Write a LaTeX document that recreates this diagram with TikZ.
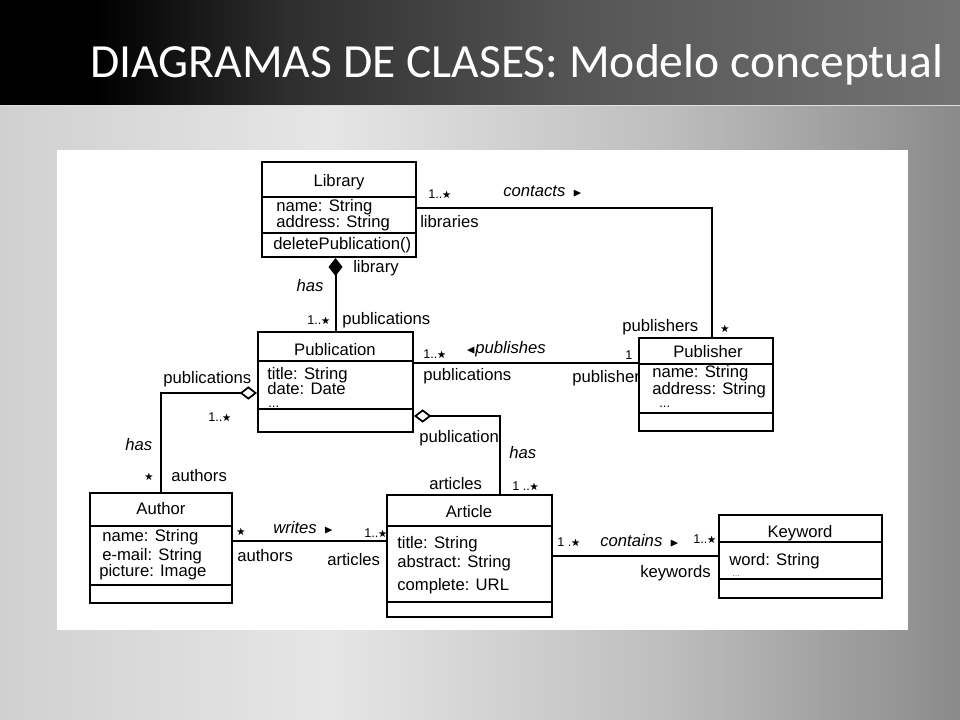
\documentclass[tikz,border=0pt]{standalone}
\usepackage{amssymb}
\usepackage{fontspec}
\setmainfont{Liberation Sans}
\newfontfamily\titlefont{Carlito}
\usetikzlibrary{arrows.meta,fit}
\newcommand\mstar{\raisebox{0.08ex}{\scalebox{0.72}{$\bigstar$}}}
\definecolor{tbA}{HTML}{2E2E2E}
\definecolor{tbB}{HTML}{555555}
\definecolor{tbC}{HTML}{737373}
\definecolor{svA}{HTML}{D0D0D0}
\definecolor{svB}{HTML}{E6E6E6}
\definecolor{svC}{HTML}{BDBDBD}
\definecolor{svD}{HTML}{8A8A8A}
\pgfdeclarehorizontalshading{titlebar}{100bp}{color(0bp)=(black); color(25bp)=(black); color(30bp)=(black); color(40bp)=(tbA); color(55bp)=(tbB); color(75bp)=(tbC); color(100bp)=(tbC)}
\pgfdeclarehorizontalshading{silver}{100bp}{color(0bp)=(svA); color(25bp)=(svA); color(42bp)=(svB); color(60bp)=(svC); color(75bp)=(svD); color(100bp)=(svD)}
\begin{document}
\begin{tikzpicture}[x=0.75pt,y=-0.75pt,
  cls/.style={draw=black, line width=1.5pt, inner sep=0pt, fill=white},
  cline/.style={draw=black, line width=1.5pt},
  conn/.style={draw=black, line width=1.5pt},
  lbl/.style={font=\fontsize{12.5}{14}\selectfont, inner sep=0pt, anchor=west, text height=9pt, text depth=2.5pt},
  attr/.style={lbl, text height=7.5pt, text depth=1pt},
  dots/.style={attr, font=\fontsize{10}{11}\selectfont, text height=1.5pt, text depth=0pt},
  cname/.style={lbl, anchor=center},
  ital/.style={lbl, font=\fontsize{12.5}{14}\selectfont\itshape},
  mult/.style={font=\fontsize{9.5}{11}\selectfont, inner sep=0pt, anchor=west, text height=6.8pt, text depth=1.9pt},
  odiam/.style={{Diamond[open, length=13pt, width=10pt, line width=1.3pt]}-},
  fdiam/.style={{Diamond[length=13.5pt, width=10.5pt]}-}
]
\useasboundingbox (0,0) rectangle (960,720);
% backgrounds
\shade[shading=silver] (0,105) rectangle (960,720);
\shade[shading=titlebar] (0,0) rectangle (960,105);
\draw[white!75!gray, line width=0.6pt] (0,105) -- (960,105);
\fill[white] (57,150) rectangle (908,630);
\node[anchor=base west, text=white, font=\titlefont\fontsize{35.7}{40}\selectfont, inner sep=0pt] (title) at (90,78) {DIAGRAMAS DE CLASES: Modelo conceptual};

% classes
\node[cls, fit={(262,162) (416,257)}] (lib) {};
\draw[cline] (lib.west |- 0,197) -- (lib.east |- 0,197);
\draw[cline] (lib.west |- 0,233) -- (lib.east |- 0,233);
\node[cname] (libn) at (339,182) {Library};
\node[attr] (liba1) at (276,207) {name: String};
\node[attr] (liba2) at (276,223) {address: String};
\node[attr] (libo1) at (273,245) {deletePublication()};

\node[cls, fit={(258,332) (413,432)}] (pub) {};
\draw[cline] (pub.west |- 0,361) -- (pub.east |- 0,361);
\draw[cline] (pub.west |- 0,409) -- (pub.east |- 0,409);
\node[cname] (pubn) at (335,351) {Publication};
\node[attr] (puba1) at (267,375) {title: String};
\node[attr] (puba2) at (267,390) {date: Date};
\node[dots] (puba3) at (268,406) {...};

\node[cls, fit={(639,338) (773,431)}] (publ) {};
\draw[cline] (publ.west |- 0,364) -- (publ.east |- 0,364);
\draw[cline] (publ.west |- 0,413) -- (publ.east |- 0,413);
\node[cname] (publn) at (708,353) {Publisher};
\node[attr] (publa1) at (652,373) {name: String};
\node[attr] (publa2) at (652,390) {address: String};
\node[dots] (publa3) at (659,406) {...};

\node[cls, fit={(90,493) (232,603)}] (auth) {};
\draw[cline] (auth.west |- 0,526) -- (auth.east |- 0,526);
\draw[cline] (auth.west |- 0,585) -- (auth.east |- 0,585);
\node[cname] (authn) at (161,510) {Author};
\node[attr] (autha1) at (102,537) {name: String};
\node[attr] (autha2) at (102,556) {e-mail: String};
\node[attr] (autha3) at (99,572) {picture: Image};

\node[cls, fit={(387,495) (552,617)}] (art) {};
\draw[cline] (art.west |- 0,526) -- (art.east |- 0,526);
\draw[cline] (art.west |- 0,602) -- (art.east |- 0,602);
\node[cname] (artn) at (469,513) {Article};
\node[attr] (arta1) at (397,544) {title: String};
\node[attr] (arta2) at (397,563) {abstract: String};
\node[attr] (arta3) at (397,586) {complete: URL};

\node[cls, fit={(719,515) (882,598)}] (kw) {};
\draw[cline] (kw.west |- 0,542) -- (kw.east |- 0,542);
\draw[cline] (kw.west |- 0,579) -- (kw.east |- 0,579);
\node[cname] (kwn) at (800,533) {Keyword};
\node[attr] (kwa1) at (729,561) {word: String};
\node[dots, font=\fontsize{7}{8}\selectfont, text=gray] (kwa2) at (732,575) {...};

% connectors
\draw[conn, fdiam] (lib.south -| pub.north) -- (pub.north);
\draw[conn] (lib.east |- 0,208) -| (publ.north -| 712,0);
\draw[conn] (pub.east |- 0,363) -- (publ.west |- 0,363);
\draw[conn, odiam] (pub.west |- 0,393) -| (auth.north);
\draw[conn, odiam] (pub.east |- 0,416) -| (art.north -| 500,0);
\draw[conn] (auth.east |- 0,541) -- (art.west |- 0,541);
\draw[conn] (art.east |- 0,556) -- (kw.west |- 0,556);

% association labels
\node[mult] (m1) at (428,195) {1..\mstar};
\node[ital] (l1) at (503,192) {contacts \,$\scriptstyle\blacktriangleright$};
\node[lbl] (l2) at (420,223) {libraries};
\node[lbl] (l3) at (353,268) {library};
\node[ital, anchor=center] (l4) at (310,287) {has};
\node[mult] (m2) at (307,321) {1..\mstar};
\node[lbl] (l5) at (342,320) {publications};
\node[lbl] (l6) at (622,327) {publishers};
\node[mult, anchor=center] (m3) at (725,329) {\mstar};

\node[mult] (m4) at (423,355) {1..\mstar};
\node[ital] (l7) at (466,349) {$\scriptstyle\blacktriangleleft$publishes};
\node[mult, anchor=center] (m5) at (629,356) {1};
\node[lbl] (l8) at (423,376) {publications};
\node[lbl] (l9) at (572,378) {publisher};

\node[lbl] (l10) at (163,379) {publications};
\node[mult] (m6) at (208,418) {1..\mstar};
\node[ital] (l11) at (125,446) {has};
\node[mult, anchor=center] (m7) at (149,477) {\mstar};
\node[lbl] (l12) at (171,477) {authors};

\node[lbl] (l13) at (419,438) {publication};
\node[ital] (l14) at (509,454) {has};
\node[lbl] (l15) at (429,485) {articles};
\node[mult] (m8) at (512,487) {1 ..\mstar};

\node[mult, anchor=center] (m9) at (241,532) {\mstar};
\node[ital] (l16) at (273,529) {writes \,$\scriptstyle\blacktriangleright$};
\node[mult] (m10) at (364,534) {1..\mstar};
\node[lbl] (l17) at (237,557) {authors};
\node[lbl] (l18) at (327,561) {articles};

\node[mult] (m11) at (557,543) {1 .\mstar};
\node[ital] (l19) at (600,542) {contains \,$\scriptstyle\blacktriangleright$};
\node[mult] (m12) at (693,540) {1..\mstar};
\node[lbl] (l20) at (640,573) {keywords};
\end{tikzpicture}
\end{document}
